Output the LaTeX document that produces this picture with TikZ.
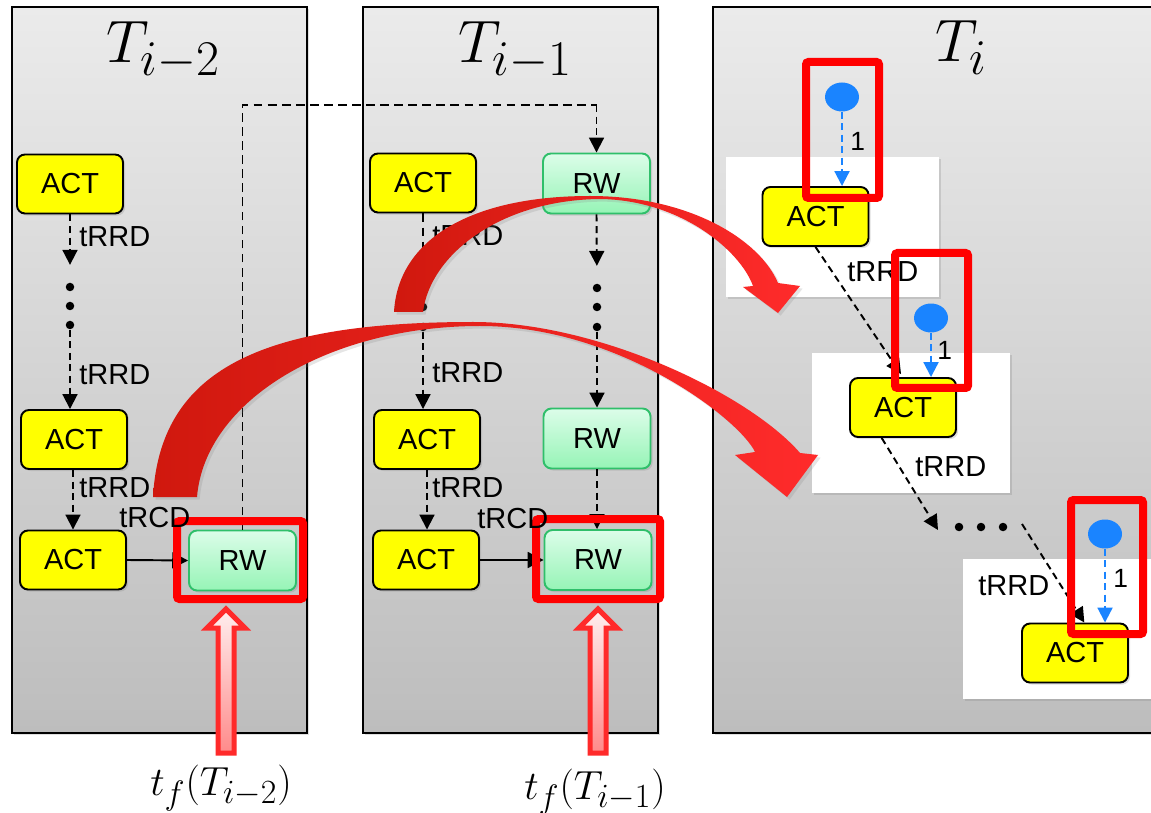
\documentclass[tikz,border=0pt]{standalone}
\usepackage{graphicx}
\usepackage{fontspec}
\setmainfont{Liberation Sans}
\usetikzlibrary{arrows.meta,shapes.geometric,shadows}

\definecolor{actfill}{HTML}{FFFF00}
\definecolor{rwtop}{HTML}{DCFDE9}
\definecolor{rwbot}{HTML}{96F4B6}
\definecolor{rwedge}{HTML}{2FBF6A}
\definecolor{paneltop}{HTML}{EBEBEB}
\definecolor{panelbot}{HTML}{BDBDBD}
\definecolor{markred}{HTML}{FF0000}
\definecolor{dotblue}{HTML}{1A84FF}
\definecolor{arcdark}{HTML}{D0180E}
\definecolor{arcmid}{HTML}{EE7070}
\definecolor{arclight}{HTML}{FF2B2B}
\definecolor{uptop}{HTML}{FFEEEE}
\definecolor{upbot}{HTML}{FF8A8A}
\definecolor{upedge}{HTML}{FF2A2A}

\newcommand{\bigmath}[2]{\scalebox{#1}{\Huge$#2$}}

\begin{document}
\begin{tikzpicture}[x=0.02cm,y=-0.02cm,
  softshadow/.style={drop shadow={opacity=0.25,shadow xshift=1.2pt,shadow yshift=-1.2pt}},
  panel/.style={draw=black,line width=0.8pt,top color=paneltop,bottom color=panelbot,softshadow},
  whitepad/.style={fill=white,softshadow},
  act/.style={draw=black,line width=1.1pt,fill=actfill,rounded corners=0.16cm,
    minimum width=2.12cm,minimum height=1.18cm,inner sep=0pt,
    font=\fontsize{16.5}{18}\selectfont,softshadow},
  rw/.style={draw=rwedge,line width=1.1pt,top color=rwtop,bottom color=rwbot,rounded corners=0.16cm,
    minimum width=2.14cm,minimum height=1.2cm,inner sep=0pt,
    font=\fontsize{16.5}{18}\selectfont,softshadow},
  dotn/.style={circle,fill=black,inner sep=0pt,minimum size=0.17cm},
  bluedot/.style={ellipse,fill=dotblue,inner sep=0pt,minimum width=0.68cm,minimum height=0.58cm},
  lbl/.style={font=\fontsize{16.5}{18}\selectfont,inner sep=0pt,anchor=west},
  numlbl/.style={font=\fontsize{15}{17}\selectfont,inner sep=0pt,anchor=west},
  dasharrow/.style={draw=black,line width=1.1pt,dash pattern=on 4pt off 2.6pt,
    -{Triangle[width=8.5pt,length=8.5pt]}},
  dashline/.style={draw=black,line width=1.1pt,dash pattern=on 5pt off 3pt},
  solidarrow/.style={draw=black,line width=1.1pt,-{Triangle[width=9pt,length=9pt]}},
  bluearrow/.style={draw=dotblue,line width=1.2pt,dash pattern=on 4pt off 2.5pt,
    -{Triangle[width=8.5pt,length=8.5pt]}},
  redbox/.style={draw=markred,line width=0.16cm,rounded corners=0.05cm},
  bigarc/.style={left color=arcdark,middle color=arcmid,right color=arclight,
    drop shadow={opacity=0.2,shadow xshift=1.5pt,shadow yshift=-1.5pt}},
  uparrow/.style={draw=upedge,line width=0.1cm,top color=uptop,bottom color=upbot,line join=miter},
  ttl/.style={inner sep=0pt,anchor=base west},
  tflbl/.style={inner sep=0pt,anchor=base west}
]
\clip (0,0) rectangle (1151,813);
\fill[white] (0,0) rectangle (1151,813);

% three time slots
\path[panel] (12,7) rectangle (307,733);
\path[panel] (363,7) rectangle (658,733);
\path[panel] (713,7) rectangle (1180,733);

\node[ttl] (h1) at (106,63) {\bigmath{1.37}{T_{i-2}}};
\node[ttl] (h2) at (458,63) {\bigmath{1.37}{T_{i-1}}};
\node[ttl] (h3) at (935,62) {\bigmath{1.37}{T_i}};

% white pads behind the activations of slot T_i
\path[whitepad] (726,157) rectangle (939,297);
\path[whitepad] (812,353) rectangle (1010,493);
\path[whitepad] (963,559) rectangle (1170,699);

% ---- slot T_{i-2}
\node[act] (a1) at (70,184) {ACT};
\node[dotn] (d1a) at (70,287) {};
\node[dotn] (d1b) at (70,306) {};
\node[dotn] (d1c) at (70,325) {};
\node[act] (a2) at (74,439.5) {ACT};
\node[act] (a3) at (73,560) {ACT};
\node[rw] (r1) at (242.5,560.5) {RW};

% ---- slot T_{i-1}
\node[act] (b1) at (423,183) {ACT};
\node[dotn] (d2a) at (423,288) {};
\node[dotn] (d2b) at (423,307) {};
\node[dotn] (d2c) at (423,327) {};
\node[act] (b2) at (427,439.5) {ACT};
\node[act] (b3) at (426,560) {ACT};
\node[rw] (s1) at (596.5,183.5) {RW};
\node[dotn] (d3a) at (597,288) {};
\node[dotn] (d3b) at (597,307) {};
\node[dotn] (d3c) at (597,327) {};
\node[rw] (s2) at (597,438.5) {RW};
\node[rw] (s3) at (598,560) {RW};

% ---- slot T_i
\node[act] (c1) at (815.5,216.5) {ACT};
\node[act] (c2) at (903,407.5) {ACT};
\node[act] (c3) at (1075,653) {ACT};
\node[dotn] (e1) at (959,527) {};
\node[dotn] (e2) at (981,527) {};
\node[dotn] (e3) at (1003,527) {};
\coordinate (e0) at (938,530);
\coordinate (e4) at (1022,524);
\coordinate (topline) at (0,105);

% connectors, slot T_{i-2}
\draw[dasharrow,shorten >=10pt] (a1.south) -- (d1a);
\draw[dasharrow] (d1c) -- (d1c |- a2.north);
\draw[dasharrow] (a3.north |- a2.south) -- (a3.north);
\draw[solidarrow] (a3.east) -- (r1.west);
\draw[dashline] (r1.north) -- (r1.north |- topline) -- (s1.north |- topline);
\draw[dasharrow] (s1.north |- topline) -- (s1.north);

% connectors, slot T_{i-1}
\draw[dashline] (b1.south) -- (d2a);
\draw[dasharrow] (d2c) -- (d2c |- b2.north);
\draw[dasharrow] (b2.south) -- (b2.south |- b3.north);
\draw[solidarrow] (b3.east) -- (s3.west);
\draw[dasharrow,shorten >=10pt] (s1.south) -- (d3a);
\draw[dasharrow] (d3c) -- (d3c |- s2.north);
\draw[dasharrow] (s2.south) -- (s2.south |- s3.north);

% connectors, slot T_i
\draw[dasharrow,shorten >=2pt] (c1.south) -- (c2.north);
\draw[dasharrow] (c2.235) -- (e0);
\draw[dasharrow] (e4) -- (c3.73);

% labels of slot T_i sit under the red marks
\node[lbl] (l31) at (847,272) {tRRD};
\node[lbl] (l32) at (915,467) {tRRD};
\node[lbl] (l33) at (978,586) {tRRD};

% red marks
\draw[redbox] (177,521) rectangle (303,599);
\draw[redbox] (536,519) rectangle (660,599);
\draw[redbox] (806,62) rectangle (879,198);
\draw[redbox] (895,253) rectangle (968,388);
\draw[redbox] (1071,500) rectangle (1143,634);

% timing labels of the first two slots
\node[lbl] (l11) at (79,237) {tRRD};
\node[lbl] (l12) at (79,375) {tRRD};
\node[lbl] (l13) at (79,488) {tRRD};
\node[lbl] (l14) at (119,518) {tRCD};
\node[lbl] (l21) at (432,236) {tRRD};
\node[lbl] (l22) at (432,373) {tRRD};
\node[lbl] (l23) at (432,488) {tRRD};
\node[lbl] (l24) at (477,519) {tRCD};

% blue markers
\node[bluedot] (p1) at (842,97) {};
\node[bluedot] (p2) at (931,318) {};
\node[bluedot] (p3) at (1105,534) {};
\draw[bluearrow] (p1.south) -- (p1.south |- c1.north);
\draw[bluearrow] (p2.south) -- (p2.south |- c2.north);
\draw[bluearrow] (p3.south) -- (p3.south |- c3.north);
\node[numlbl] (n1) at (850,141) {1};
\node[numlbl] (n2) at (937,350) {1};
\node[numlbl] (n3) at (1113,578) {1};

% curved arrows carrying the slots forward
\path[bigarc] (394,312) .. controls (398,240) and (470,196) .. (590,196)
  .. controls (690,196) and (760,240) .. (778,283)
  -- (800,286) -- (778,313) -- (743,287) -- (753,286)
  .. controls (740,250) and (680,200) .. (600,199)
  .. controls (500,200) and (430,255) .. (423,312) -- cycle;
\path[bigarc] (153,497) .. controls (160,370) and (260,322) .. (473,322)
  .. controls (600,322) and (750,395) .. (800,453)
  -- (818,455) -- (787,497) -- (735,455) -- (755,452)
  .. controls (740,420) and (620,326) .. (480,326)
  .. controls (330,326) and (205,400) .. (197,497) -- cycle;

% finishing-time pointers
\path[uparrow] (226,609) -- (245,628) -- (234,628) -- (234,753) -- (218,753)
  -- (218,628) -- (207,628) -- cycle;
\path[uparrow] (598,609) -- (617,628) -- (606,628) -- (606,753) -- (590,753)
  -- (590,628) -- (579,628) -- cycle;

\node[tflbl] (tf1) at (150,795) {\bigmath{0.93}{t_f(T_{i-2})}};
\node[tflbl] (tf2) at (524,799) {\bigmath{0.93}{t_f(T_{i-1})}};
\end{tikzpicture}
\end{document}
